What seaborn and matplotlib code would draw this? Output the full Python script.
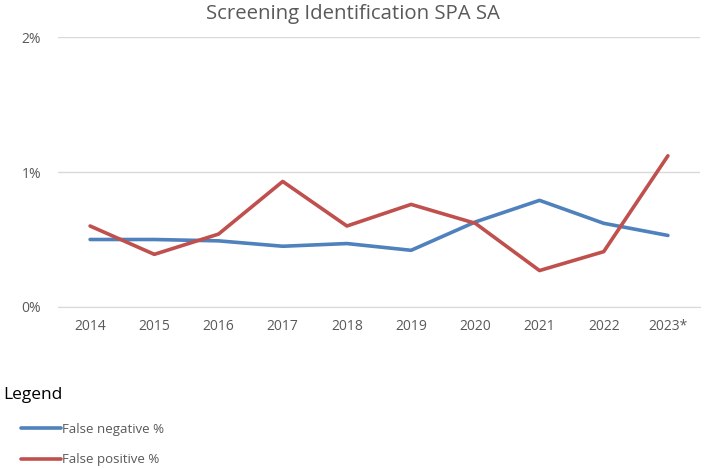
import pandas as pd
import matplotlib
matplotlib.use("Agg")
import matplotlib.pyplot as plt
import seaborn as sns
from matplotlib.ticker import FuncFormatter

years = ['2014', '2015', '2016', '2017', '2018', '2019', '2020', '2021', '2022', '2023*']
false_negative = [0.50, 0.50, 0.49, 0.45, 0.47, 0.42, 0.63, 0.79, 0.62, 0.53]
false_positive = [0.60, 0.39, 0.54, 0.93, 0.60, 0.76, 0.62, 0.27, 0.41, 1.12]
series_names = ['False negative %', 'False positive %']

df = pd.DataFrame({
    'Year': years * 2,
    'Value': false_negative + false_positive,
    'Series': [series_names[0]] * len(years) + [series_names[1]] * len(years),
})

sns.set_style('white')
plt.rcParams['font.family'] = ['Open Sans', 'DejaVu Sans']

fig = plt.figure(figsize=(7.06, 4.69), dpi=100)
ax = fig.add_axes([58 / 706, (469 - 307) / 469, 642 / 706, 270 / 469])

sns.lineplot(data=df, x='Year', y='Value', hue='Series', sort=False,
             palette=['#4F81BD', '#C0504D'], linewidth=2.6, ax=ax, legend=False)

ax.set_xlim(-0.5, len(years) - 0.5)
ax.set_ylim(0, 2)
ax.set_yticks([0, 1, 2])
ax.yaxis.set_major_formatter(FuncFormatter(lambda v, p: f'{int(v)}%'))
ax.grid(axis='y', color='#D9D9D9', linewidth=1)
ax.set_axisbelow(True)
for s in ['top', 'right', 'left']:
    ax.spines[s].set_visible(False)
ax.spines['bottom'].set_color('#D9D9D9')
ax.tick_params(axis='both', length=0, labelsize=10, labelcolor='#595959')
ax.tick_params(axis='x', pad=9)
ax.tick_params(axis='y', pad=12)
ax.set_xlabel('')
ax.set_ylabel('')

fig.text(0.5, 1 - 14 / 469, 'Screening Identification SPA SA', ha='center', va='center',
         fontsize=14.7, color='#595959')

fig.text(3 / 706, 1 - 395 / 469, 'Legend', ha='left', va='center', fontsize=12.5, color='black')
handles = [plt.Line2D([], [], color=c, linewidth=2.6) for c in ['#4F81BD', '#C0504D']]
leg = fig.legend(handles, series_names, loc='upper left',
                 bbox_to_anchor=(21 / 706, 1 - 423 / 469), frameon=False, fontsize=9.5,
                 handlelength=3.0, handletextpad=0.1, labelspacing=1.3,
                 borderpad=0, borderaxespad=0)
for t in leg.get_texts():
    t.set_color('#595959')

fig.savefig('out.png', dpi=100)
